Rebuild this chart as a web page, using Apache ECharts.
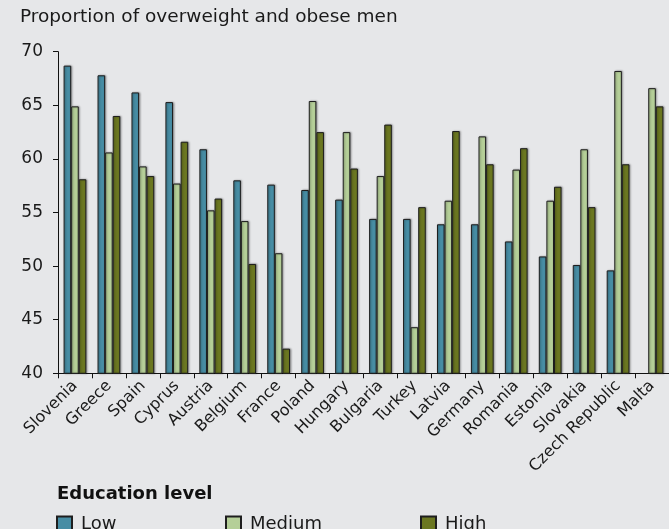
<!DOCTYPE html>
<html><head><meta charset="utf-8">
<script src="https://cdn.jsdelivr.net/npm/echarts@6/dist/echarts.min.js"></script>
<style>html,body{margin:0;padding:0;background:#e6e7e9;}#c{width:669px;height:529px;}</style>
</head><body><div id="c"></div>
<script>
const categories = ['Slovenia','Greece','Spain','Cyprus','Austria','Belgium','France','Poland','Hungary','Bulgaria','Turkey','Latvia','Germany','Romania','Estonia','Slovakia','Czech Republic','Malta'];
const lowValues = [68.7,67.8,66.2,65.3,60.9,58.0,57.6,57.1,56.2,54.4,54.4,53.9,53.9,52.3,50.9,50.1,49.6,null];
const mediumValues = [64.9,60.6,59.3,57.7,55.2,54.2,51.2,65.4,62.5,58.4,44.3,56.1,62.1,59.0,56.1,60.9,68.2,66.6];
const highValues = [58.1,64.0,58.4,61.6,56.3,50.2,42.3,62.5,59.1,63.2,55.5,62.6,59.5,61.0,57.4,55.5,59.5,64.9];
const yTicks = [40,45,50,55,60,65,70];

const FONT = '"DejaVu Sans", Verdana, sans-serif';
const chart = echarts.init(document.getElementById('c'));
const barStyle = c => ({color:c, borderColor:'#1e1e1e', borderWidth:1, shadowColor:'rgba(0,0,0,0.35)', shadowBlur:2, shadowOffsetX:1, shadowOffsetY:0});
const mk = (name, data, c) => ({name, type:'bar', data, barGap:'0%', barCategoryGap:'33%', itemStyle:barStyle(c), emphasis:{disabled:true}});
const legendText = {fontFamily:FONT, fontSize:18, color:'#1a1a1a', padding:[0,0,0,4]};
const legendBase = {top:510, itemWidth:15, itemHeight:15, icon:'rect', textStyle:legendText, selectedMode:false};
chart.setOption({
  backgroundColor:'#e6e7e9',
  animation:false,
  textStyle:{fontFamily:FONT},
  title:{text:'Proportion of overweight and obese men', left:15, top:3, textStyle:{fontFamily:FONT, fontSize:18.5, fontWeight:'normal', color:'#1a1a1a'}},
  graphic:[{type:'text', left:57, top:485, style:{text:'Education level', font:'bold 18px "DejaVu Sans"', fill:'#111'}}],
  legend:[
    Object.assign({data:['Low'], left:51}, legendBase),
    Object.assign({data:['Medium'], left:220}, legendBase),
    Object.assign({data:['High'], left:415}, legendBase)
  ],
  grid:{left:58, top:51.7, right:-6.6, bottom:155.7, containLabel:false},
  xAxis:{type:'category', data:categories,
    axisLine:{lineStyle:{color:'#111', width:1}},
    axisTick:{show:true, length:5, lineStyle:{color:'#111'}},
    axisLabel:{rotate:45, fontFamily:FONT, fontSize:16, color:'#1a1a1a', margin:10, interval:0}},
  yAxis:{type:'value', min:yTicks[0], max:yTicks[yTicks.length-1], interval:5,
    splitLine:{show:false},
    axisLine:{show:true, lineStyle:{color:'#111', width:1}},
    axisTick:{show:true, length:5, lineStyle:{color:'#111'}},
    axisLabel:{fontFamily:FONT, fontSize:17, color:'#1a1a1a', margin:15}},
  series:[
    mk('Low', lowValues, '#478da4'),
    mk('Medium', mediumValues, '#b5cf98'),
    mk('High', highValues, '#6b7721')
  ]
});
</script></body></html>
